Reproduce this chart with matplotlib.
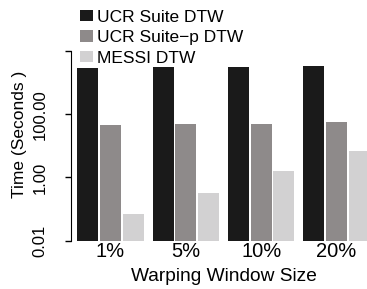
import numpy as np
import matplotlib.pyplot as plt
from matplotlib.patches import Patch

plt.rcParams['font.family'] = ['Liberation Sans', 'DejaVu Sans']

# data (seconds, log scale)
windows = ['1%', '5%', '10%', '20%']
ucr_suite = [2950, 3150, 3200, 3400]
ucr_suite_p = [46, 49, 49, 57]
messi = [0.068, 0.32, 1.58, 6.8]

series = [ucr_suite, ucr_suite_p, messi]
names = ['UCR Suite DTW', 'UCR Suite\u2212p DTW', 'MESSI DTW']
colors = ['#1a1a1a', '#8e8a8a', '#d2d1d2']

fig = plt.figure(figsize=(3.67, 2.89), dpi=100)
ax = fig.add_axes([71 / 367, (289 - 240.7) / 289, 296 / 367, (240.7 - 51) / 289])

x = np.arange(len(windows))
width = 0.28
pitch = 0.30
bottom = 0.01
for i, (vals, c) in enumerate(zip(series, colors)):
    ax.bar(x + (i - 1) * pitch, np.array(vals) - bottom, width, bottom=bottom,
           color=c, label=names[i])

ax.set_yscale('log')
ax.set_ylim(0.01, 10000)
ax.set_xlim(-0.525, 3.405)
ax.set_yticks([0.01, 1, 100, 10000])
ax.set_yticklabels(['0.01', '1.00', '100.00', ''], rotation=90, va='center', fontsize=12)
ax.yaxis.set_minor_locator(plt.NullLocator())
ax.tick_params(axis='y', length=4, width=1, pad=13)
ax.set_xticks(x)
ax.set_xticklabels(windows, fontsize=14.5)
ax.tick_params(axis='x', length=0, pad=1)

# R-style axes: only the left axis, spanning the tick range
for s in ['top', 'right', 'bottom']:
    ax.spines[s].set_visible(False)
ax.spines['left'].set_bounds(0.01, 10000)

ax.set_ylabel('Time (Seconds )', fontsize=12.5)
ax.yaxis.set_label_coords(-0.148, 0.563)
ax.set_xlabel('Warping Window Size', fontsize=13.8)
ax.xaxis.set_label_coords(0.517, -0.144)
ax.xaxis.label.set_va('top')

handles = [Patch(facecolor=c) for c in colors]
fig.legend(handles, names, loc='upper left', bbox_to_anchor=(80 / 367, 1 - 9.5 / 289),
           frameon=False, fontsize=12.5, handlelength=0.72, handleheight=0.63,
           handletextpad=0.27, labelspacing=0.32, borderpad=0, borderaxespad=0)

fig.savefig('out.png', dpi=100)
